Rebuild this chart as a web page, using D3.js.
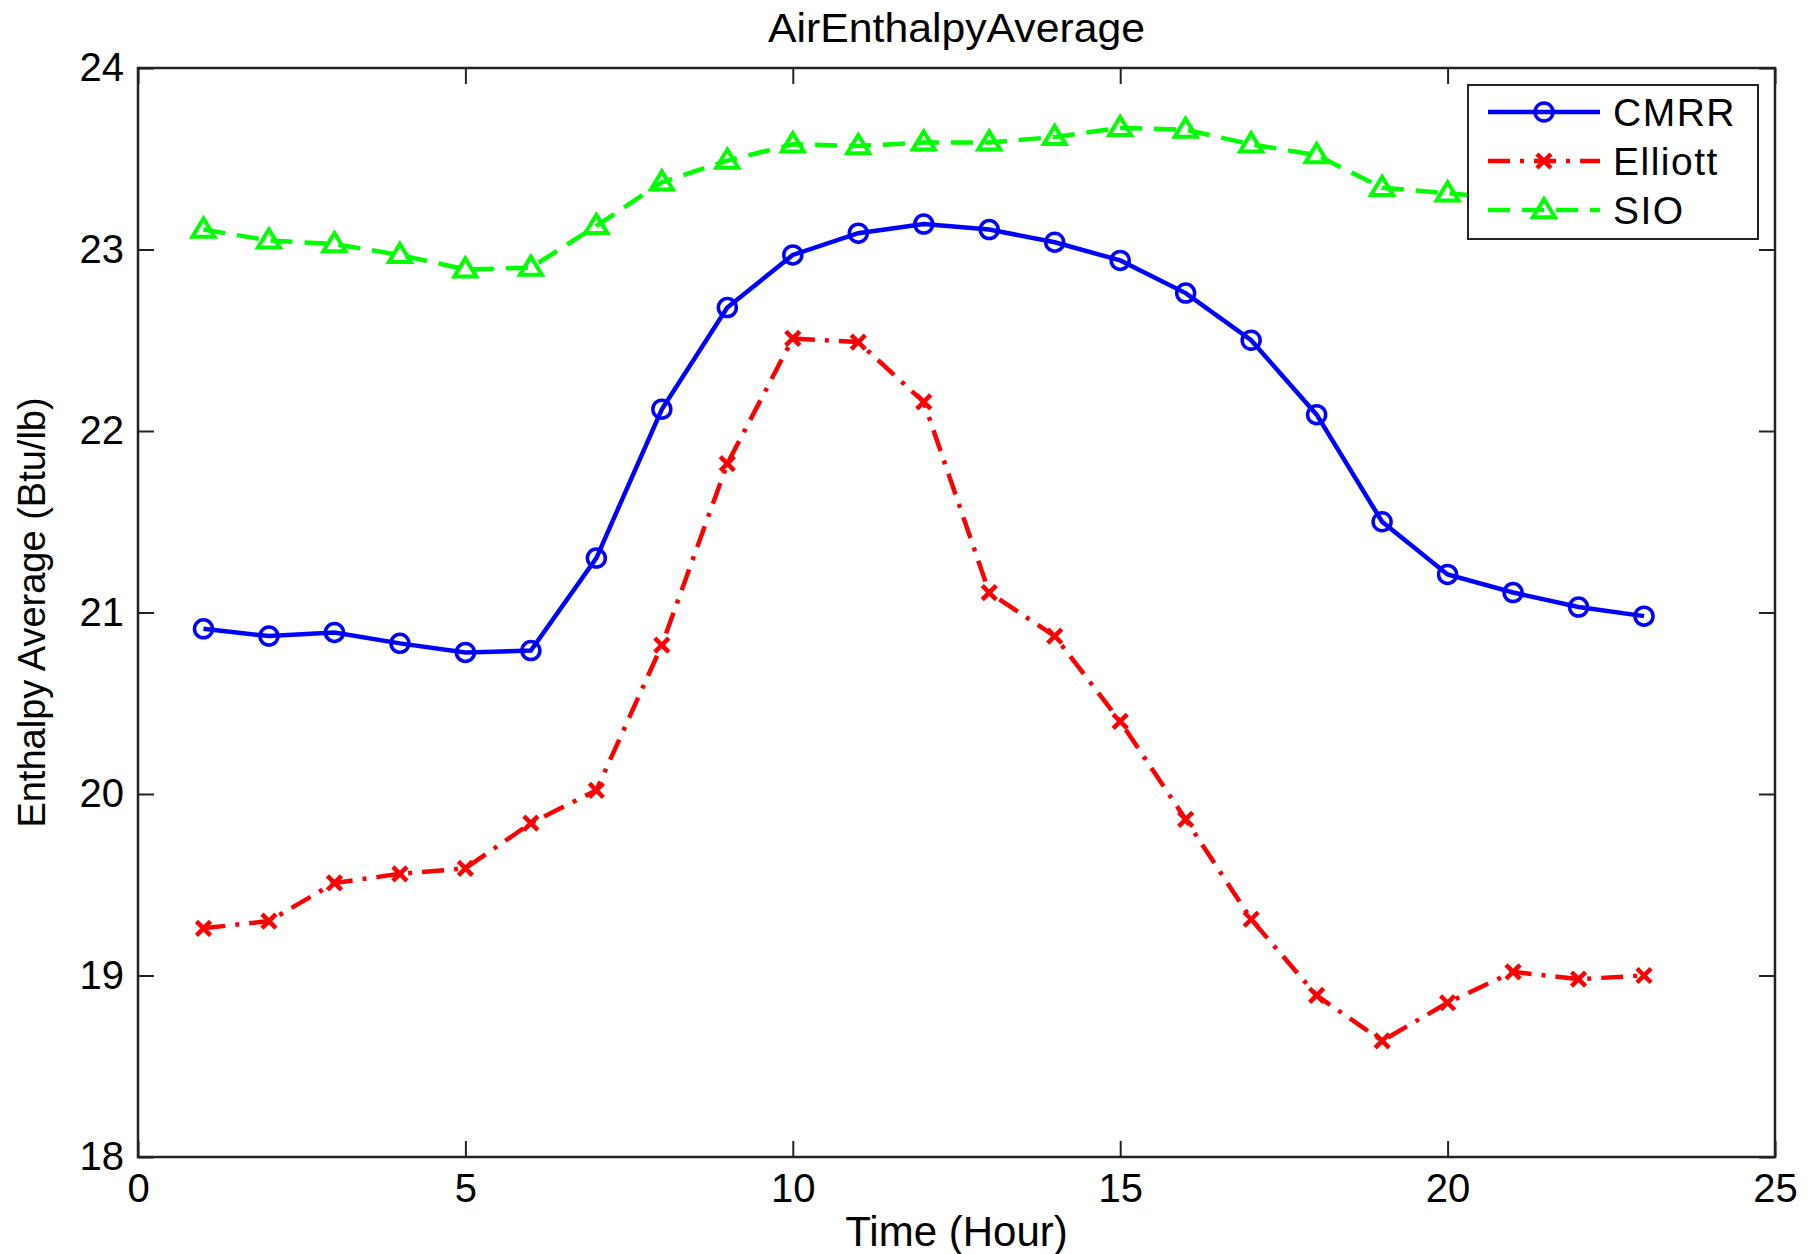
<!DOCTYPE html>
<html>
<head>
<meta charset="utf-8">
<script src="https://cdn.jsdelivr.net/npm/d3@7"></script>
<style>
  body { margin: 0; background: #fff; }
  text { font-family: "Liberation Sans", Arial, sans-serif; fill: #000; }
</style>
</head>
<body>
<svg width="1816" height="1254"></svg>
<script>
const hours = d3.range(1, 24);
const cmrr = [20.91, 20.87, 20.89, 20.83, 20.78, 20.79, 21.30, 22.12, 22.68, 22.97, 23.09, 23.14,
  23.11, 23.04, 22.94, 22.76, 22.50, 22.09, 21.50, 21.21, 21.11, 21.03, 20.98];
const elliott = [19.26, 19.30, 19.51, 19.56, 19.59, 19.84, 20.02, 20.82, 21.82, 22.51, 22.49, 22.16,
  21.11, 20.87, 20.40, 19.86, 19.31, 18.89, 18.64, 18.85, 19.02, 18.98, 19.00];
const sio = [23.11, 23.05, 23.03, 22.97, 22.89, 22.90, 23.13, 23.37, 23.49, 23.58, 23.57, 23.59,
  23.59, 23.62, 23.67, 23.66, 23.58, 23.52, 23.34, 23.31, 23.28, 23.25, 23.22];
const xTicks = [0, 5, 10, 15, 20, 25];
const yTicks = [18, 19, 20, 21, 22, 23, 24];

const svg = d3.select('svg');
const plotL = 138, plotR = 1775, plotT = 68, plotB = 1157;

const x = d3.scaleLinear().domain([0, 25]).range([plotL, plotR]);
const y = d3.scaleLinear().domain([18, 24]).range([plotB, plotT]);

const series = [
  {name: 'CMRR', values: cmrr, color: '#0000ff', dash: null, marker: 'circle'},
  {name: 'Elliott', values: elliott, color: '#ff0000', dash: '22,10,4,10', marker: 'x'},
  {name: 'SIO', values: sio, color: '#00ff00', dash: '22,12', marker: 'triangle'}
];

// axes box with inward ticks
const tickLen = 16;
const fmt = d3.format('d');
svg.append('g').attr('transform', `translate(0,${plotB})`)
  .call(d3.axisBottom(x).tickValues(xTicks).tickFormat(fmt).tickSizeInner(-tickLen).tickSizeOuter(0).tickPadding(17))
  .call(g => g.select('.domain').remove());
svg.append('g').attr('transform', `translate(0,${plotT})`)
  .call(d3.axisTop(x).tickValues(xTicks).tickSizeInner(-tickLen).tickSizeOuter(0).tickFormat(''))
  .call(g => g.select('.domain').remove());
svg.append('g').attr('transform', `translate(${plotL},0)`)
  .call(d3.axisLeft(y).tickValues(yTicks).tickFormat(fmt).tickSizeInner(-tickLen).tickSizeOuter(0).tickPadding(14))
  .call(g => g.select('.domain').remove());
svg.append('g').attr('transform', `translate(${plotR},0)`)
  .call(d3.axisRight(y).tickValues(yTicks).tickSizeInner(-tickLen).tickSizeOuter(0).tickFormat(''))
  .call(g => g.select('.domain').remove());

svg.selectAll('.tick line').attr('stroke', '#222').attr('stroke-width', 2);
svg.selectAll('.tick text').attr('font-size', 40).attr('font-family', '"Liberation Sans", Arial, sans-serif').attr('fill', '#000');

svg.append('rect')
  .attr('x', plotL).attr('y', plotT)
  .attr('width', plotR - plotL).attr('height', plotB - plotT)
  .attr('fill', 'none').attr('stroke', '#222').attr('stroke-width', 2.5);

function drawMarker(g, type, color, cx, cy) {
  if (type === 'circle') {
    g.append('circle').attr('cx', cx).attr('cy', cy).attr('r', 9)
      .attr('fill', 'none').attr('stroke', color).attr('stroke-width', 3.5);
  } else if (type === 'x') {
    const s = 7;
    g.append('path')
      .attr('d', `M${cx - s},${cy - s}L${cx + s},${cy + s}M${cx - s},${cy + s}L${cx + s},${cy - s}`)
      .attr('stroke', color).attr('stroke-width', 4.5);
  } else {
    const s = 11;
    g.append('path')
      .attr('d', `M${cx},${cy - s}L${cx + s},${cy + s * 0.65}L${cx - s},${cy + s * 0.65}Z`)
      .attr('fill', 'none').attr('stroke', color).attr('stroke-width', 4);
  }
}

const line = d3.line().x((d, i) => x(hours[i])).y(d => y(d));

series.forEach(s => {
  const g = svg.append('g');
  g.append('path').datum(s.values)
    .attr('d', line)
    .attr('fill', 'none')
    .attr('stroke', s.color)
    .attr('stroke-width', 4.5)
    .attr('stroke-dasharray', s.dash);
  s.values.forEach((v, i) => drawMarker(g, s.marker, s.color, x(hours[i]), y(v)));
});

// legend
const lg = svg.append('g');
lg.append('rect')
  .attr('x', 1468).attr('y', 85).attr('width', 290).attr('height', 154)
  .attr('fill', '#fff').attr('stroke', '#222').attr('stroke-width', 2);
series.forEach((s, i) => {
  const ly = 112 + i * 49;
  lg.append('line')
    .attr('x1', 1488).attr('x2', 1600).attr('y1', ly).attr('y2', ly)
    .attr('stroke', s.color).attr('stroke-width', 4.5)
    .attr('stroke-dasharray', s.dash);
  drawMarker(lg, s.marker, s.color, 1544, ly);
  lg.append('text')
    .attr('x', 1613).attr('y', ly + 14)
    .attr('font-size', 39)
    .attr('letter-spacing', 1.5)
    .text(s.name);
});

// titles
svg.append('text')
  .attr('x', (plotL + plotR) / 2).attr('y', 42)
  .attr('text-anchor', 'middle').attr('font-size', 40)
  .attr('textLength', 377).attr('lengthAdjust', 'spacingAndGlyphs')
  .text('AirEnthalpyAverage');

svg.append('text')
  .attr('x', (plotL + plotR) / 2).attr('y', 1246)
  .attr('text-anchor', 'middle').attr('font-size', 42)
  .text('Time (Hour)');

svg.append('text')
  .attr('transform', `translate(45,${(plotT + plotB) / 2}) rotate(-90)`)
  .attr('text-anchor', 'middle').attr('font-size', 38)
  .text('Enthalpy Average (Btu/lb)');
</script>
</body>
</html>
